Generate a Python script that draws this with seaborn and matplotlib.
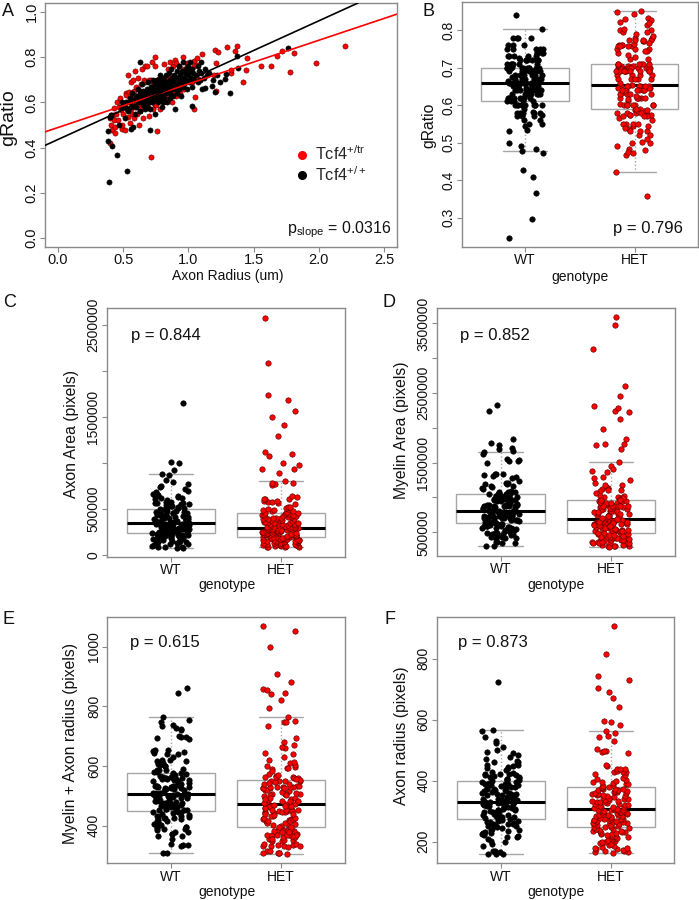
import numpy as np
import pandas as pd
import matplotlib
matplotlib.use("Agg")
import matplotlib.pyplot as plt
from matplotlib.lines import Line2D
import seaborn as sns

# (axon radius in um, g-ratio) per axon
wt_points = [
    (0.390, 0.246), (0.455, 0.367), (0.386, 0.427), (0.415, 0.409), (0.386, 0.473),
    (0.400, 0.535), (0.410, 0.545), (0.470, 0.500), (0.480, 0.580), (0.490, 0.600),
    (0.530, 0.296), (0.559, 0.483), (0.578, 0.491), (0.510, 0.530), (0.520, 0.600),
    (0.540, 0.560), (0.550, 0.620), (0.560, 0.580), (0.570, 0.640), (0.580, 0.610),
    (0.590, 0.550), (0.520, 0.575), (0.555, 0.600), (0.595, 0.630),
    (0.600, 0.580), (0.610, 0.620), (0.610, 0.660), (0.620, 0.600), (0.625, 0.640),
    (0.630, 0.560), (0.635, 0.610), (0.640, 0.630), (0.645, 0.680), (0.650, 0.590),
    (0.650, 0.620), (0.655, 0.650), (0.660, 0.600), (0.627, 0.778), (0.665, 0.630),
    (0.668, 0.570),
    (0.670, 0.610), (0.675, 0.640), (0.680, 0.660), (0.680, 0.580), (0.685, 0.620),
    (0.690, 0.690), (0.695, 0.600), (0.700, 0.630), (0.700, 0.650), (0.705, 0.570),
    (0.708, 0.479), (0.710, 0.670), (0.715, 0.620), (0.720, 0.640), (0.720, 0.600),
    (0.725, 0.700), (0.730, 0.660), (0.735, 0.610), (0.740, 0.630), (0.740, 0.680),
    (0.745, 0.550), (0.748, 0.650),
    (0.755, 0.620), (0.760, 0.660), (0.760, 0.700), (0.765, 0.640), (0.770, 0.600),
    (0.770, 0.680), (0.775, 0.630), (0.780, 0.660), (0.780, 0.720), (0.785, 0.610),
    (0.790, 0.650), (0.790, 0.690), (0.795, 0.580), (0.795, 0.670), (0.800, 0.630),
    (0.800, 0.710), (0.800, 0.655), (0.802, 0.600),
    (0.810, 0.660), (0.810, 0.700), (0.815, 0.620), (0.820, 0.680), (0.825, 0.640),
    (0.830, 0.720), (0.830, 0.660), (0.835, 0.600), (0.840, 0.690), (0.845, 0.650),
    (0.850, 0.730), (0.850, 0.670), (0.855, 0.620), (0.860, 0.700), (0.860, 0.640),
    (0.865, 0.680), (0.870, 0.750), (0.870, 0.660), (0.875, 0.710), (0.878, 0.630),
    (0.885, 0.690), (0.890, 0.660), (0.890, 0.720), (0.895, 0.570), (0.900, 0.700),
    (0.905, 0.670), (0.910, 0.740), (0.915, 0.640), (0.920, 0.710), (0.920, 0.680),
    (0.925, 0.760), (0.930, 0.660), (0.935, 0.720), (0.940, 0.690), (0.945, 0.630),
    (0.950, 0.740), (0.950, 0.700), (0.955, 0.670), (0.960, 0.780), (0.965, 0.710),
    (0.970, 0.680), (0.975, 0.730), (0.980, 0.750), (0.985, 0.700), (0.990, 0.660),
    (0.995, 0.760), (1.000, 0.720), (1.005, 0.690), (1.010, 0.740), (1.015, 0.780),
    (1.020, 0.710), (1.025, 0.670), (1.030, 0.750), (1.035, 0.730), (1.040, 0.700),
    (1.029, 0.583),
    (1.060, 0.720), (1.070, 0.760), (1.075, 0.690), (1.080, 0.740), (1.090, 0.700),
    (1.095, 0.780), (1.100, 0.730), (1.108, 0.659), (1.120, 0.710), (1.125, 0.665),
    (1.130, 0.750), (1.145, 0.720),
    (1.160, 0.730), (1.181, 0.674), (1.190, 0.700), (1.205, 0.647), (1.220, 0.720),
    (1.240, 0.690),
    (1.277, 0.702), (1.286, 0.725), (1.318, 0.641), (1.373, 0.804), (1.378, 0.751),
    (1.763, 0.841),
]

het_points = [
    (0.395, 0.421), (0.400, 0.530), (0.405, 0.500), (0.410, 0.545), (0.415, 0.480),
    (0.420, 0.545), (0.426, 0.521), (0.430, 0.575), (0.439, 0.491), (0.439, 0.466),
    (0.445, 0.550), (0.451, 0.603), (0.460, 0.520), (0.470, 0.580), (0.478, 0.620),
    (0.482, 0.566), (0.487, 0.483), (0.491, 0.499),
    (0.500, 0.550), (0.505, 0.588), (0.510, 0.580), (0.516, 0.476), (0.520, 0.640),
    (0.523, 0.633), (0.530, 0.570), (0.535, 0.536), (0.535, 0.722), (0.540, 0.600),
    (0.545, 0.645), (0.550, 0.510), (0.555, 0.620), (0.559, 0.573), (0.560, 0.690),
    (0.565, 0.550), (0.570, 0.640), (0.570, 0.600), (0.575, 0.700), (0.580, 0.530),
    (0.585, 0.650), (0.585, 0.620), (0.590, 0.580), (0.592, 0.740),
    (0.600, 0.585), (0.600, 0.670), (0.605, 0.550), (0.610, 0.630), (0.615, 0.710),
    (0.619, 0.501), (0.620, 0.590), (0.625, 0.650), (0.630, 0.560), (0.631, 0.573),
    (0.635, 0.680), (0.640, 0.620), (0.645, 0.750), (0.650, 0.600), (0.650, 0.645),
    (0.655, 0.530), (0.660, 0.640), (0.660, 0.700), (0.665, 0.580), (0.665, 0.690),
    (0.668, 0.585), (0.670, 0.760),
    (0.675, 0.650), (0.680, 0.600), (0.684, 0.759), (0.690, 0.630), (0.691, 0.580),
    (0.695, 0.700), (0.700, 0.650), (0.700, 0.540), (0.705, 0.620), (0.710, 0.700),
    (0.715, 0.357), (0.715, 0.670), (0.720, 0.600), (0.720, 0.780), (0.725, 0.640),
    (0.728, 0.692), (0.730, 0.570), (0.735, 0.655), (0.738, 0.690), (0.740, 0.588),
    (0.740, 0.800),
    (0.745, 0.680), (0.747, 0.759), (0.750, 0.640), (0.755, 0.590), (0.759, 0.473),
    (0.760, 0.700), (0.765, 0.645), (0.770, 0.620), (0.775, 0.705), (0.780, 0.680),
    (0.785, 0.570), (0.790, 0.640), (0.795, 0.710), (0.800, 0.700), (0.800, 0.650),
    (0.805, 0.600), (0.810, 0.690), (0.812, 0.670), (0.815, 0.770), (0.818, 0.630),
    (0.825, 0.700), (0.830, 0.645), (0.835, 0.610), (0.840, 0.750), (0.845, 0.690),
    (0.848, 0.617), (0.850, 0.710), (0.855, 0.640), (0.860, 0.780), (0.865, 0.670),
    (0.870, 0.695), (0.872, 0.600), (0.875, 0.690), (0.880, 0.760), (0.885, 0.650),
    (0.890, 0.705), (0.893, 0.680), (0.896, 0.789), (0.900, 0.700), (0.903, 0.630),
    (0.908, 0.774), (0.910, 0.710),
    (0.915, 0.670), (0.920, 0.700), (0.925, 0.700), (0.930, 0.760), (0.935, 0.640),
    (0.944, 0.707), (0.950, 0.710), (0.955, 0.800), (0.960, 0.690), (0.965, 0.750),
    (0.970, 0.660), (0.980, 0.690), (0.990, 0.770), (0.993, 0.774),
    (1.017, 0.705), (1.029, 0.692), (1.040, 0.784), (1.040, 0.759), (1.045, 0.573),
    (1.053, 0.625), (1.065, 0.766), (1.069, 0.796), (1.069, 0.710), (1.090, 0.700),
    (1.101, 0.814), (1.197, 0.722), (1.202, 0.833), (1.210, 0.774), (1.226, 0.823),
    (1.210, 0.650),
    (1.293, 0.844), (1.325, 0.729), (1.329, 0.744), (1.354, 0.829), (1.373, 0.851),
    (1.421, 0.692), (1.438, 0.744), (1.450, 0.796), (1.559, 0.762), (1.631, 0.759),
    (1.679, 0.804), (1.715, 0.826), (1.780, 0.733), (1.811, 0.818), (1.980, 0.774),
    (2.204, 0.848),
]

UM_TO_PX = 411          # um -> image pixels (panel F vs panel A)
fit_het = [0.489, 0.193]  # intercept, slope of the red line in A
fit_wt = [0.436, 0.2625]  # intercept, slope of the black line in A
genotypes = ["WT", "HET"]
p_values = {"gratio": "0.796", "axon_area": "0.844", "myelin_area": "0.852",
            "outer_px": "0.615", "radius_px": "0.873"}
p_slope = "0.0316"

# build one table, derived measures come from radius and g-ratio
def make_frame(points, genotype):
    d = pd.DataFrame(points, columns=["radius_um", "gratio"])
    d["genotype"] = genotype
    return d

df = pd.concat([make_frame(wt_points, "WT"), make_frame(het_points, "HET")],
               ignore_index=True)
df["radius_px"] = df["radius_um"] * UM_TO_PX
df["axon_area"] = np.pi * df["radius_px"] ** 2
df["outer_px"] = df["radius_px"] / df["gratio"]
df["myelin_area"] = np.pi * df["outer_px"] ** 2

sns.set_style("ticks")
plt.rcParams["font.family"] = ["Liberation Sans", "DejaVu Sans"]
plt.rcParams["mathtext.fontset"] = "custom"
plt.rcParams["mathtext.rm"] = "Liberation Sans"
plt.rcParams["mathtext.it"] = "Liberation Sans:italic"

W, H = 699, 900
FRAME = "#8a8a8a"
BOX = "#a6a6a6"
TXT = "#111111"
RED = "#ff0000"
RED_EDGE = "#5a0000"

fig = plt.figure(figsize=(W / 100, H / 100), dpi=100)
np.random.seed(7)


def px_axes(left, top, right, bottom):
    return fig.add_axes([left / W, 1 - bottom / H, (right - left) / W, (bottom - top) / H])


def fig_text(x, y, s, **kw):
    kw.setdefault("color", TXT)
    fig.text(x / W, 1 - y / H, s, **kw)


def style_axes(ax, labelsize=10):
    for sp in ax.spines.values():
        sp.set_visible(True)
        sp.set_color(FRAME)
        sp.set_linewidth(1.0)
    ax.tick_params(direction="out", length=3.6, width=0.8, color=FRAME,
                   labelcolor=TXT, labelsize=labelsize, pad=1)
    ax.set_xlabel("")
    ax.set_ylabel("")


def set_yticks(ax, ticks, labels):
    ax.set_yticks(ticks)
    ax.set_yticklabels(labels, rotation=90, va="center")


# ---- panel A: scatter with fitted lines
ax = px_axes(45, 3, 397, 247)
sns.scatterplot(data=df[df.genotype == "HET"], x="radius_um", y="gratio", color=RED,
                edgecolor=RED_EDGE, linewidth=0.4, s=14, ax=ax, zorder=2)
sns.scatterplot(data=df[df.genotype == "WT"], x="radius_um", y="gratio", color="black",
                edgecolor="black", linewidth=0.4, s=14, ax=ax, zorder=2)
for (b0, b1), col in [(fit_het, "red"), (fit_wt, "black")]:
    ax.axline((0, b0), slope=b1, color=col, lw=1.2, zorder=3)
ax.set_xlim(-0.1, 2.6)
ax.set_ylim(-0.04, 1.04)
style_axes(ax, labelsize=10.5)
ax.set_xticks([0, 0.5, 1.0, 1.5, 2.0, 2.5])
ax.set_xticklabels(["0.0", "0.5", "1.0", "1.5", "2.0", "2.5"])
set_yticks(ax, [0, 0.2, 0.4, 0.6, 0.8, 1.0], ["0.0", "0.2", "0.4", "0.6", "0.8", "1.0"])
handles = [
    Line2D([], [], ls="", marker="o", ms=5.5, mfc=RED, mec=RED, label=r"Tcf4$^{\mathrm{+/tr}}$"),
    Line2D([], [], ls="", marker="o", ms=5.5, mfc="black", mec="black", label=r"Tcf4$^{\mathrm{+/+}}$"),
]
ax.legend(handles=handles, loc="center left", bbox_to_anchor=(0.711, 0.339), frameon=False,
          borderpad=0, borderaxespad=0, handlelength=0.8, handletextpad=0.42,
          labelspacing=0.1, fontsize=11.7)
ax.text(0.985, 0.056, r"p$_{\mathrm{slope}}$ = " + p_slope, transform=ax.transAxes,
        ha="right", va="baseline", fontsize=11.5, color=TXT)
fig_text(227.5, 276, "Axon Radius (um)", ha="center", va="center", fontsize=10)
fig_text(9, 117.5, "gRatio", ha="center", va="center", rotation=90, fontsize=14)
fig_text(2, 3, "A", ha="left", va="top", fontsize=13)


# ---- box + strip panels
def box_panel(rect, col, yticks, ylabels, letter, letter_xy, ylab, ylab_xy,
              xlab_xy, p_xy, p_ha):
    ax = px_axes(*rect)
    sns.boxplot(data=df, x="genotype", y=col, order=genotypes, width=0.8, color="white",
                linecolor=BOX, linewidth=1.0, showfliers=False, whis=1.5,
                medianprops={"color": "black", "linewidth": 2.2},
                whiskerprops={"linestyle": ":"}, ax=ax)
    for g, c, ec in [("WT", "black", "black"), ("HET", RED, RED_EDGE)]:
        sns.stripplot(data=df[df.genotype == g], x="genotype", y=col, order=genotypes,
                      color=c, edgecolor=ec, linewidth=0.45, size=3.9, jitter=0.17,
                      ax=ax, zorder=3)
    lo, hi = df[col].min(), df[col].max()
    pad = 0.04 * (hi - lo)
    ax.set_ylim(lo - pad, hi + pad)
    ax.set_xlim(-0.58, 1.58)
    style_axes(ax)
    ax.set_xticks([0, 1])
    ax.set_xticklabels(genotypes)
    set_yticks(ax, yticks, ylabels)
    ax.text(p_xy[0], p_xy[1], "p = " + p_values[col], transform=ax.transAxes,
            ha=p_ha, va="baseline", fontsize=12, color=TXT)
    fig_text(ylab_xy[0], ylab_xy[1], ylab, ha="center", va="center", rotation=90,
             fontsize=11.3)
    fig_text(xlab_xy[0], xlab_xy[1], "genotype", ha="center", va="center", fontsize=10)
    fig_text(letter_xy[0], letter_xy[1], letter, ha="left", va="top", fontsize=13)
    return ax


box_panel((461.7, 2, 698, 247), "gratio", [0.3, 0.4, 0.5, 0.6, 0.7, 0.8],
          ["0.3", "0.4", "0.5", "0.6", "0.7", "0.8"], "B", (423, 3),
          "gRatio", (429, 125), (580, 276.7), (0.938, 0.056), "right")

c_ticks = [0, 500000, 1000000, 1500000, 2000000, 2500000]
box_panel((106.7, 308.3, 345, 556.7), "axon_area", c_ticks,
          ["0", "500000", "", "1500000", "", "2500000"], "C", (3, 294),
          "Axon Area (pixels)", (71.5, 434), (226.7, 585), (0.102, 0.872), "left")

d_ticks = [500000, 1000000, 1500000, 2000000, 2500000, 3000000, 3500000]
box_panel((436.5, 308.3, 675, 556), "myelin_area", d_ticks,
          ["500000", "", "1500000", "", "2500000", "", "3500000"], "D", (382, 294),
          "Myelin Area (pixels)", (401.7, 430), (555.8, 585), (0.10, 0.872), "left")

box_panel((107.3, 617.3, 345, 863.3), "outer_px", [400, 600, 800, 1000],
          ["400", "600", "800", "1000"], "E", (3, 611),
          "Myelin + Axon radius (pixels)", (71, 743.3), (226.7, 891.7), (0.0955, 0.88), "left")

box_panel((436.7, 617.3, 674.3, 863.3), "radius_px", [200, 400, 600, 800],
          ["200", "400", "600", "800"], "F", (384, 611),
          "Axon radius (pixels)", (401.7, 735.8), (555.8, 891.7), (0.091, 0.88), "left")

fig.savefig("out.png", dpi=100)
